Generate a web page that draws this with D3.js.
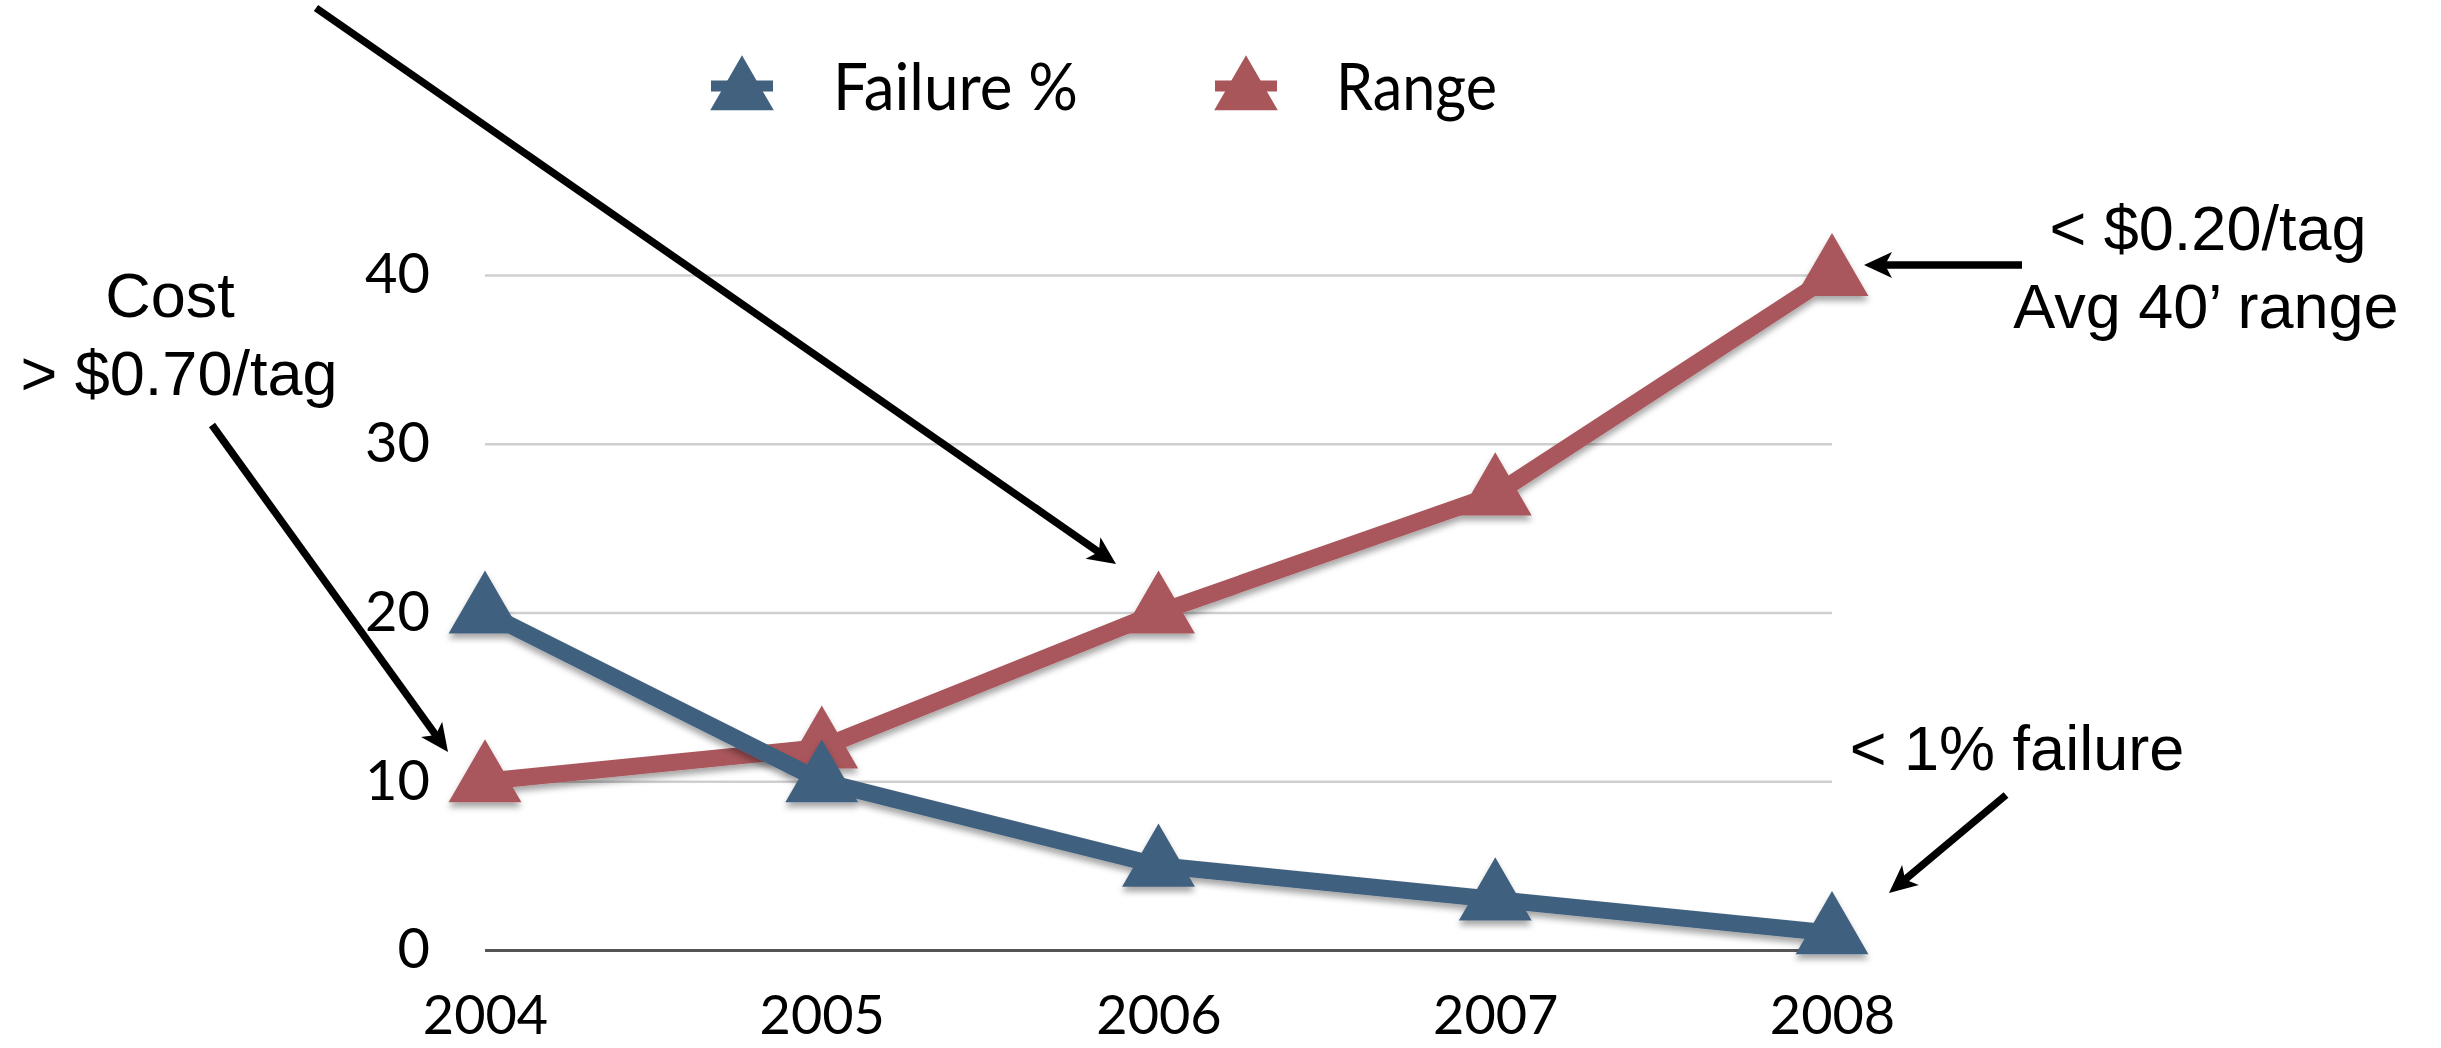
<!DOCTYPE html>
<html lang="en">
<head>
    <meta charset="UTF-8">
    <title>Failure % and Range, 2004-2008</title>
    <script src="https://d3js.org/d3.v7.min.js"></script>
    <style>
        body {
            margin: 0;
            background: #fff;
        }
        .tick text {
            font-family: Lato, "Open Sans", sans-serif;
            fill: #000;
        }
        .legend-label {
            font-family: Lato, "Open Sans", sans-serif;
            fill: #000;
        }
        .note {
            font-family: "Liberation Sans", Arial, sans-serif;
            font-size: 63px;
            fill: #000;
            text-anchor: middle;
        }
    </style>
</head>
<body>
    <div id="chart"></div>
    <script>
        // Data
        const years = [2004, 2005, 2006, 2007, 2008];
        const failurePct = [20, 10, 5, 3, 1];
        const rangeFt = [10, 12, 20, 27, 40];
        const yTicks = [0, 10, 20, 30, 40];
        const seriesNames = ["Failure %", "Range"];
        const seriesColors = ["#41617f", "#a9565b"];

        const W = 2441, H = 1048;
        const margin = { top: 275, right: 609, bottom: 98, left: 485 },
              width = W - margin.left - margin.right,
              height = H - margin.top - margin.bottom;

        const root = d3.select("#chart")
            .append("svg")
            .attr("width", W)
            .attr("height", H);

        // soft drop shadow like the original keynote chart
        const defs = root.append("defs");
        const shadow = defs.append("filter")
            .attr("id", "shadow")
            .attr("x", "-10%").attr("y", "-10%")
            .attr("width", "120%").attr("height", "130%");
        shadow.append("feDropShadow")
            .attr("dx", 0).attr("dy", 5)
            .attr("stdDeviation", 3)
            .attr("flood-color", "#000")
            .attr("flood-opacity", 0.35);

        const svg = root.append("g")
            .attr("transform", `translate(${margin.left},${margin.top})`);

        const x = d3.scalePoint()
            .domain(years)
            .range([0, width]);

        const y = d3.scaleLinear()
            .domain([0, 40])
            .range([height, 0]);

        // y axis + gridlines
        const yAxis = svg.append("g")
            .call(d3.axisLeft(y).tickValues(yTicks).tickSize(-width).tickPadding(55));
        yAxis.select(".domain").remove();
        yAxis.selectAll(".tick line")
            .attr("stroke", d => d === 0 ? "#555" : "#cfcfcf")
            .attr("stroke-width", d => d === 0 ? 3 : 2.5);
        yAxis.selectAll(".tick text")
            .style("font-size", "56px");

        // x axis
        const xAxis = svg.append("g")
            .attr("transform", `translate(0,${height})`)
            .call(d3.axisBottom(x).tickSize(0).tickPadding(46));
        xAxis.select(".domain").remove();
        xAxis.selectAll(".tick text")
            .style("font-size", "54px");

        // series
        const triangle = d3.symbol().type(d3.symbolTriangle).size(2300);
        const line = d3.line()
            .x((d, i) => x(years[i]))
            .y(d => y(d));

        // range first so failure % sits on top
        [[rangeFt, 1], [failurePct, 0]].forEach(([vals, k]) => {
            const g = svg.append("g").attr("filter", "url(#shadow)");
            g.append("path")
                .datum(vals)
                .attr("fill", "none")
                .attr("stroke", seriesColors[k])
                .attr("stroke-width", 17)
                .attr("stroke-linejoin", "round")
                .attr("d", line);
            g.selectAll("path.pt")
                .data(vals)
                .enter()
                .append("path")
                .attr("class", "pt")
                .attr("transform", (d, i) => `translate(${x(years[i])},${y(d)})`)
                .attr("fill", seriesColors[k])
                .attr("d", triangle);
        });

        // legend
        const legendX = [742, 1246];
        const legendText = [833, 1336];
        const legendLen = [245, 161];
        seriesNames.forEach((name, k) => {
            const g = root.append("g");
            g.append("line")
                .attr("x1", legendX[k] - 31).attr("x2", legendX[k] + 31)
                .attr("y1", 86).attr("y2", 86)
                .attr("stroke", seriesColors[k])
                .attr("stroke-width", 11);
            g.append("path")
                .attr("transform", `translate(${legendX[k]},92)`)
                .attr("fill", seriesColors[k])
                .attr("d", d3.symbol().type(d3.symbolTriangle).size(1750)());
            g.append("text")
                .attr("class", "legend-label")
                .attr("x", legendText[k])
                .attr("y", 110)
                .style("font-size", "66px")
                .attr("textLength", legendLen[k])
                .attr("lengthAdjust", "spacingAndGlyphs")
                .text(name);
        });

        // annotations
        const notes = root.append("g");

        function arrow(x1, y1, x2, y2) {
            const dx = x2 - x1, dy = y2 - y1;
            const len = Math.hypot(dx, dy);
            const ux = dx / len, uy = dy / len;
            const nx = -uy, ny = ux;
            const L = 28, Wd = 13;
            notes.append("line")
                .attr("x1", x1).attr("y1", y1)
                .attr("x2", x2 - ux * L * 0.7).attr("y2", y2 - uy * L * 0.7)
                .attr("stroke", "#000")
                .attr("stroke-width", 7.5);
            const pts = [
                [x2, y2],
                [x2 - ux * L + nx * Wd, y2 - uy * L + ny * Wd],
                [x2 - ux * L * 0.75, y2 - uy * L * 0.75],
                [x2 - ux * L - nx * Wd, y2 - uy * L - ny * Wd]
            ];
            notes.append("path")
                .attr("d", "M" + pts.join("L") + "Z")
                .attr("fill", "#000");
        }

        arrow(316, 8, 1116, 564);
        arrow(212, 425, 448, 752);
        arrow(2022, 265, 1864, 265);
        arrow(2006, 795, 1889, 893);

        notes.append("text").attr("class", "note").attr("x", 170).attr("y", 317).text("Cost");
        notes.append("text").attr("class", "note").attr("x", 179).attr("y", 395).text("> $0.70/tag");
        notes.append("text").attr("class", "note").attr("x", 2208).attr("y", 250).text("< $0.20/tag");
        notes.append("text").attr("class", "note").attr("x", 2206).attr("y", 328).text("Avg 40\u2019 range");
        notes.append("text").attr("class", "note").attr("x", 2017).attr("y", 770).text("< 1% failure");
    </script>
</body>
</html>
